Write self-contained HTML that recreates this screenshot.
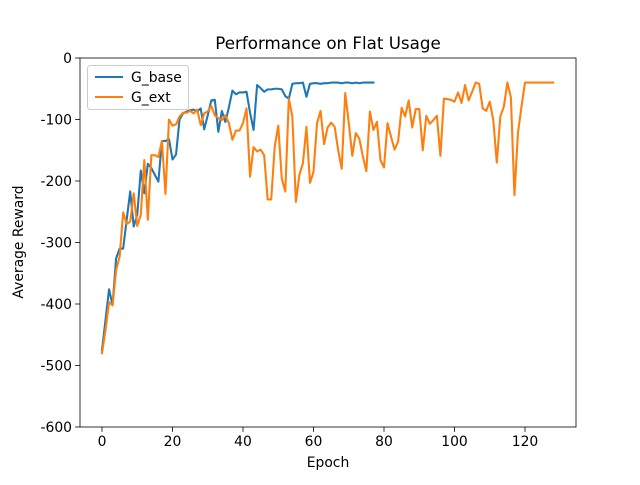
<!DOCTYPE html>
<html><head><meta charset="utf-8"><style>
body{margin:0;background:#fff}
svg text{font-family:"DejaVu Sans","Liberation Sans",sans-serif;fill:#000}
</style></head><body>
<svg id="chart" width="640" height="480" viewBox="0 0 640 480" xmlns="http://www.w3.org/2000/svg">
<rect width="640" height="480" fill="#fff"/>
<text x="328" y="49" font-size="16.7" text-anchor="middle">Performance on Flat Usage</text>
<g id="plot"></g>
<text x="328" y="467" font-size="13.9" text-anchor="middle">Epoch</text>
<text transform="translate(23,242) rotate(-90)" font-size="13.9" text-anchor="middle">Average Reward</text>
</svg>
<script>
const xTicks=[0,20,40,60,80,100,120];
const yTicks=[0,-100,-200,-300,-400,-500,-600];
const gBase=[-475,-426,-376,-402,-326,-310,-310,-263,-217,-274,-255,-183,-220,-172,-179,-190,-201,-135,-135,-132,-165,-157,-100,-90,-87,-85,-84,-87,-82,-116,-93,-69,-68,-120,-86,-104,-80,-53,-59,-56,-56,-55,-89,-117,-44,-49,-55,-51,-51,-50,-50,-51,-62,-66,-42,-41,-41,-40,-63,-42,-41,-41,-42,-41,-41,-40,-40,-40,-41,-40,-40,-41,-40,-41,-40,-40,-40,-40];
const gExt=[-480,-442,-397,-402,-345,-323,-251,-270,-266,-220,-273,-255,-166,-263,-158,-158,-161,-135,-221,-100,-110,-108,-95,-89,-89,-86,-90,-84,-109,-90,-87,-78,-93,-98,-101,-93,-106,-133,-118,-118,-106,-82,-193,-145,-152,-149,-158,-230,-230,-144,-110,-196,-217,-66,-95,-234,-190,-171,-112,-203,-185,-106,-86,-140,-113,-105,-112,-150,-180,-57,-105,-159,-122,-131,-160,-184,-87,-117,-104,-166,-178,-106,-128,-149,-136,-81,-95,-69,-113,-83,-83,-150,-94,-107,-101,-94,-159,-66,-67,-68,-71,-56,-73,-44,-69,-55,-40,-42,-82,-86,-71,-101,-170,-95,-79,-40,-64,-223,-122,-79,-40,-40,-40,-40,-40,-40,-40,-40,-40];
const L=80,R=576,T=58,B=427;
const X=v=>102+v*3.525;
const Y=v=>T-v*(B-T)/600;
const NS="http://www.w3.org/2000/svg";
const plot=document.getElementById('plot');
function mk(tag,attrs,parent){const e=document.createElementNS(NS,tag);for(const k in attrs)e.setAttribute(k,attrs[k]);(parent||plot).appendChild(e);return e;}
xTicks.forEach(t=>{
  const l=mk('line',{x1:X(t),x2:X(t),y1:B,y2:B+4.9,stroke:'#000','stroke-width':0.8});
  
  
  const tx=mk('text',{x:X(t),y:B+19,'font-size':13.9,'text-anchor':'middle'});
  tx.textContent=t;
  
  
});
yTicks.forEach(t=>{
  const l=mk('line',{x1:L-4.9,x2:L,y1:Y(t),y2:Y(t),stroke:'#000','stroke-width':0.8});
  
  
  const tx=mk('text',{x:L-8,y:Y(t)+5,'font-size':13.9,'text-anchor':'end'});
  tx.textContent=t;
  
  
});
function series(arr,color,name){
  const p=mk('polyline',{points:arr.map((v,i)=>X(i)+','+Y(v)).join(' '),fill:'none',stroke:color,'stroke-width':2.08,'stroke-linejoin':'round','stroke-linecap':'square'});
  
  
}
series(gBase,'#1f77b4','g-base-line');
series(gExt,'#ff7f0e','g-ext-line');
const fr=mk('rect',{x:L,y:T,width:R-L,height:B-T,fill:'none',stroke:'#000','stroke-width':0.8});


const lg=mk('g',{});


mk('rect',{x:87.5,y:65.5,width:101,height:44,rx:3,fill:'#fff','fill-opacity':0.8,stroke:'#ccc','stroke-width':1},lg);
[['G_base','#1f77b4',77],['G_ext','#ff7f0e',97]].forEach(([n,c,y])=>{
  const e=mk('g',{},lg);
  
  
  mk('line',{x1:95,x2:123,y1:y,y2:y,stroke:c,'stroke-width':2.08},e);
  const t=mk('text',{x:131,y:y+5,'font-size':13.9},e);
  t.textContent=n;
});
</script>
</body></html>
